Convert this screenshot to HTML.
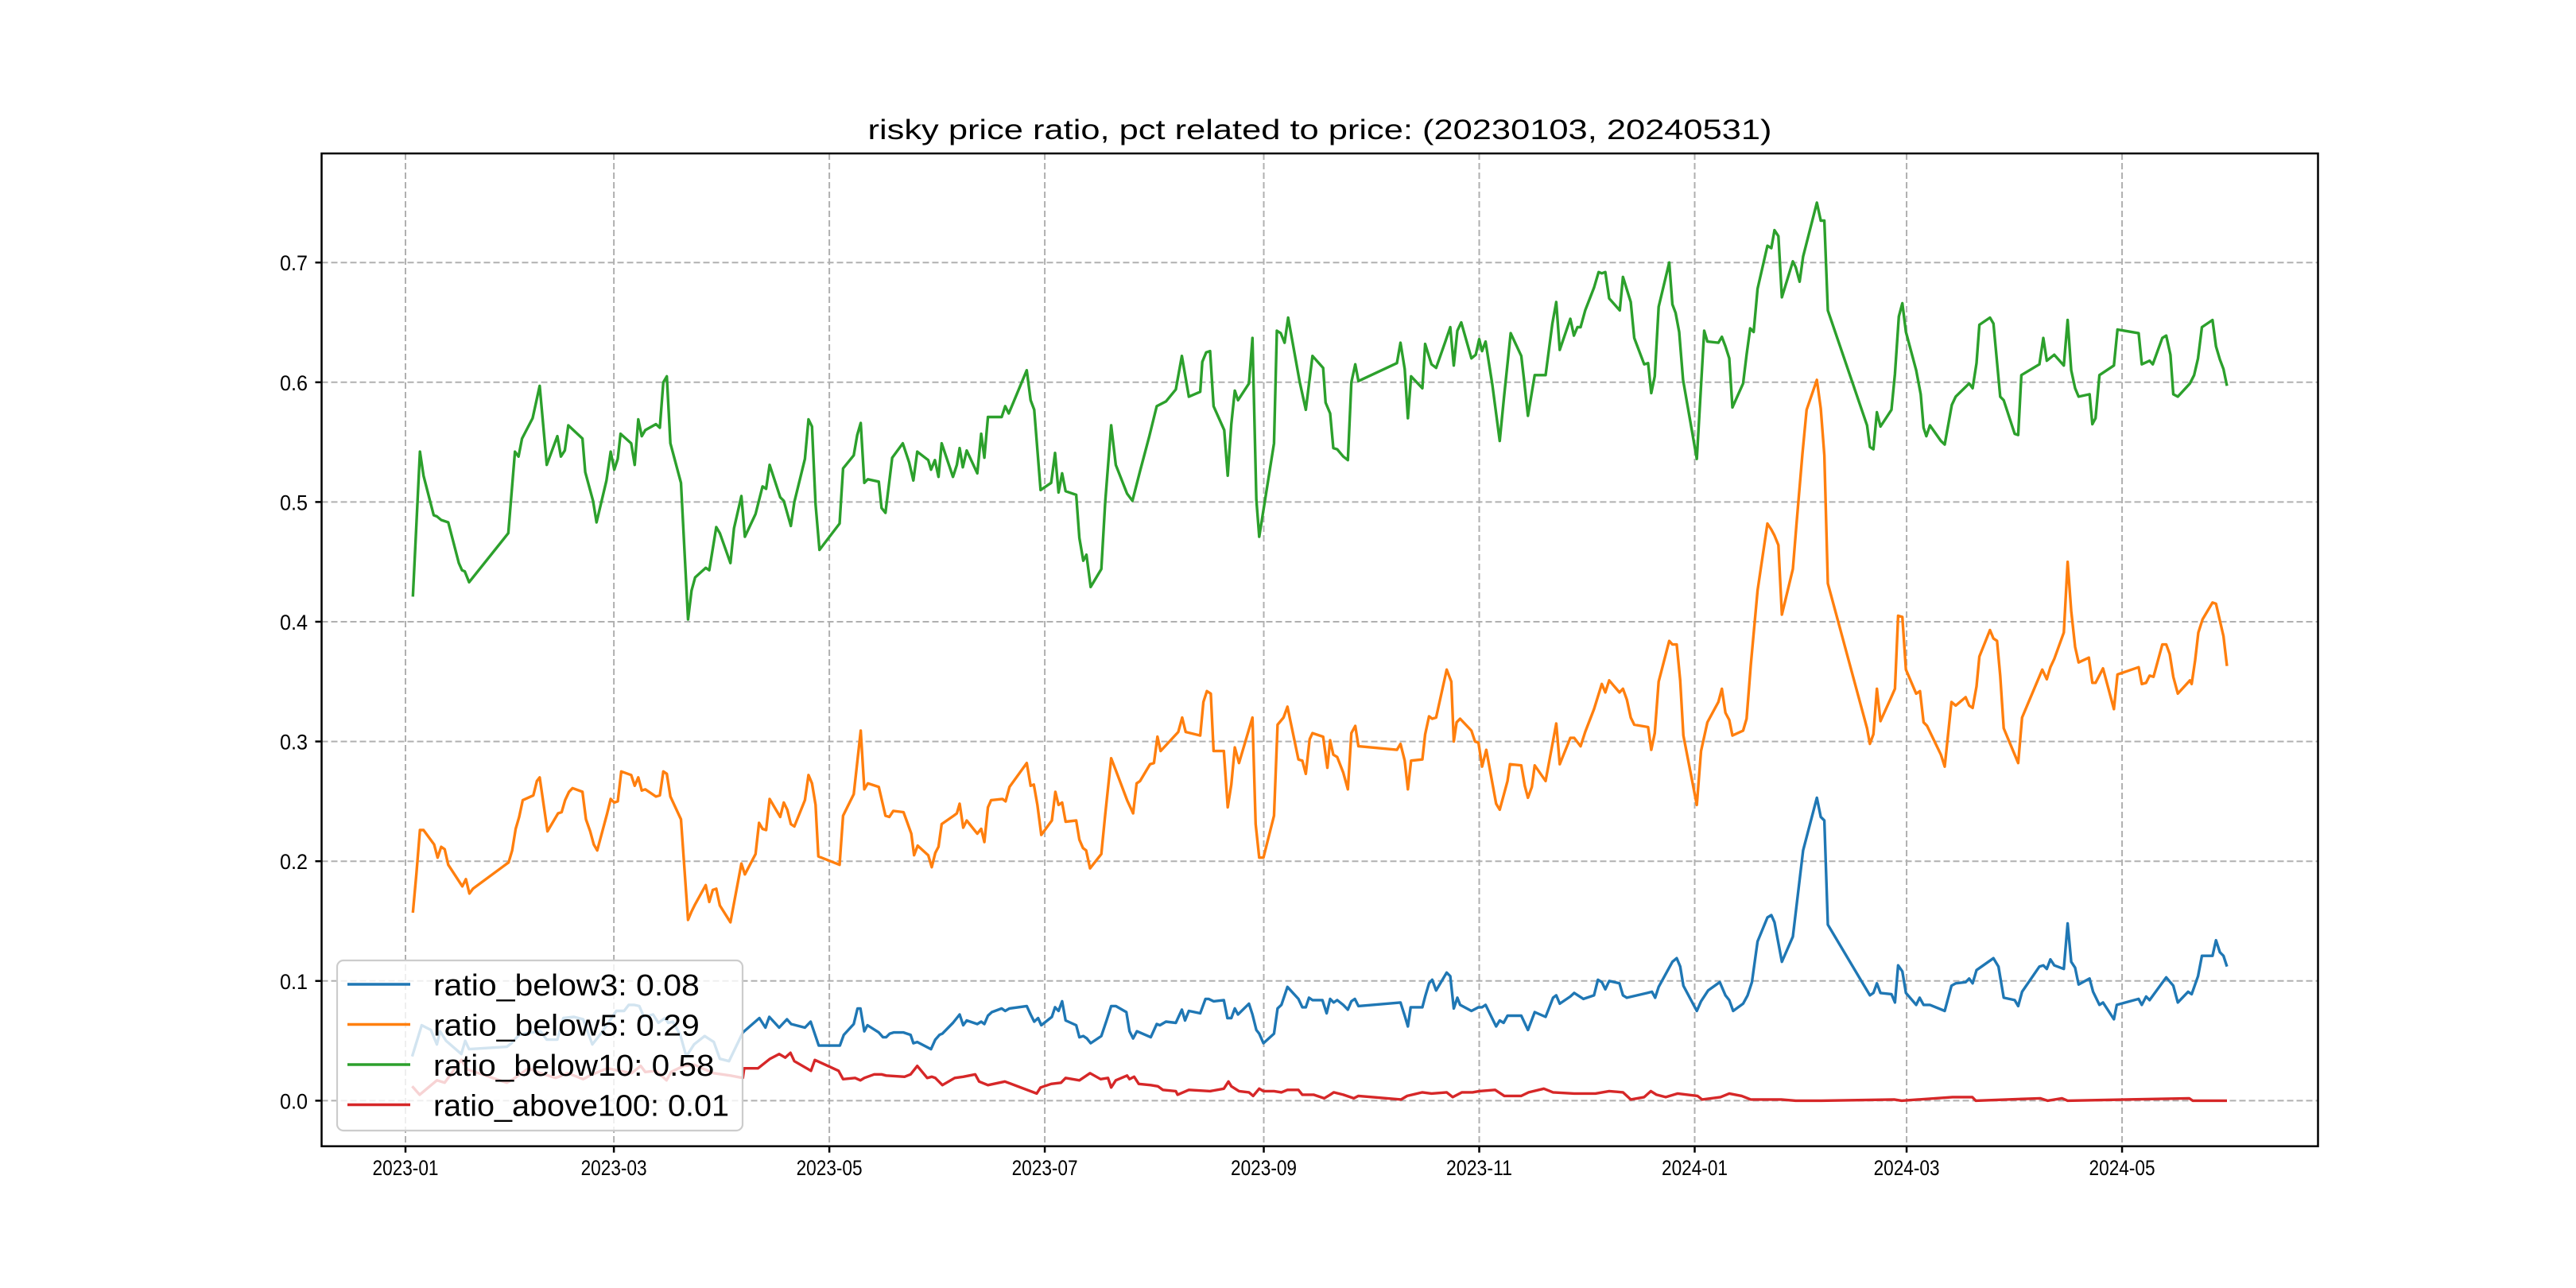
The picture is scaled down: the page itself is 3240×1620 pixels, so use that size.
<!DOCTYPE html>
<html><head><meta charset="utf-8">
<style>
html,body{margin:0;padding:0;background:#fff;}
svg{display:block;}
text{font-family:"Liberation Sans","Noto Sans CJK SC",sans-serif;fill:#000;}
</style></head>
<body>
<svg id="chart" xmlns="http://www.w3.org/2000/svg" width="3240" height="1620" viewBox="0 0 3240 1620">
<rect x="0" y="0" width="3240" height="1620" fill="#fff"/>
<text x="1660" y="175" text-anchor="middle" font-size="35" textLength="1137" lengthAdjust="spacingAndGlyphs">risky price ratio, pct related to price: (20230103, 20240531)</text>
<g id="grid"></g>
<g id="series"></g>
<rect x="404.5" y="193" width="2511" height="1248.7" fill="none" stroke="#000" stroke-width="2.5"/>
<g id="axes"></g>
<g id="legend"></g>
</svg>
<script>
// x: days since 2023-01-01
const xTickDays = [0,59,120,181,243,304,365,425,486];
const xTickLabels = ["2023-01","2023-03","2023-05","2023-07","2023-09","2023-11","2024-01","2024-03","2024-05"];
const yTickValues = [0,0.1,0.2,0.3,0.4,0.5,0.6,0.7];
const yTickLabels = ["0.0","0.1","0.2","0.3","0.4","0.5","0.6","0.7"];
const seriesNames = ["ratio_below3","ratio_below5","ratio_below10","ratio_above100"];
const seriesLegendValues = ["0.08","0.29","0.58","0.01"];
const seriesColors = ["#1f77b4","#ff7f0e","#2ca02c","#d62728"];

const b3Days = [1.9,4.6,7.2,8.9,9.8,11.5,15.8,16.9,18,28.7,30,32.2,35.6,38.2,40,43,44.7,47.7,50.3,52.9,55.3,57.2,59.7,61.9,63.2,64.7,66.2,67.5,70.1,71.6,73.5,74.4,75.7,77.8,79.5,81.7,84.7,87.3,89,91.6,95.5,100.2,101.9,103,105.8,108,109.2,113.1,114.7,117,123,124.1,126.9,128,128.8,129.9,130.8,134,135.2,136.1,137.1,138.2,141,143,143.8,144.9,148.8,150,151.2,152,155,156.9,157.9,158.9,161.9,163,163.9,164.9,166,168.8,169.8,171,175.9,177,178,179.1,180,183,183.9,184.9,185.9,186.9,189.9,190.8,191.9,192.9,194,197,198.5,199.8,201.1,204.1,205,206,207.1,211,212.7,213.6,215.3,218.1,219.8,220.7,221.8,225,226.5,227.4,228.8,231.7,232.7,233.8,234.8,235.7,238.8,239.8,240.9,241.7,242.9,245.9,246.9,248,249.7,252.8,253.9,254.9,255.8,256.8,259.6,260.8,261.8,262.8,263.8,265.5,266.8,267.8,268.8,269.8,281.7,282.9,283.8,284.6,287.9,288.7,289.8,290.7,291.8,294.8,295.8,296.8,297.8,298.6,301.8,303.8,304.8,305.8,308.8,309.8,310.9,312,315.9,317.8,319.7,322.8,324.9,325.8,326.8,329.8,330.9,333.5,336.5,337.6,338.7,339.7,340.8,343.7,344.7,345.8,351.6,352.9,353.8,354.8,358.7,359.9,360.9,361.8,365.6,366.8,368.8,372.1,373.7,374.8,375.9,378.7,380,381.2,382.8,385.6,386.7,387.6,389.7,392.8,395.7,399.6,400.7,401.7,402.7,414.6,415.6,416.6,417.6,420.7,421.7,422.6,423.8,424.8,427.7,428.7,429.8,431.6,435.8,437.7,438.9,441.7,442.7,443.7,444.8,449.6,451,452.5,455.6,456.6,457.7,462.6,463.7,464.7,465.7,466.8,469.5,470.6,471.6,472.7,473.7,476.8,477.8,479.6,480.6,483.7,484.5,490.7,491.6,492.8,493.8,498.5,500.5,501.8,504.7,505.7,507.5,508.6,511.6,512.6,513.7,514.7,515.7];
const b3Vals = [0.037,0.063,0.059,0.047,0.058,0.050,0.039,0.050,0.043,0.045,0.048,0.055,0.057,0.058,0.051,0.051,0.069,0.070,0.068,0.047,0.056,0.064,0.075,0.075,0.080,0.080,0.079,0.070,0.072,0.065,0.069,0.065,0.066,0.055,0.037,0.047,0.054,0.049,0.035,0.033,0.057,0.069,0.061,0.070,0.061,0.068,0.064,0.061,0.066,0.046,0.046,0.055,0.064,0.077,0.077,0.058,0.063,0.057,0.053,0.053,0.056,0.057,0.057,0.055,0.048,0.049,0.043,0.051,0.055,0.056,0.065,0.072,0.063,0.067,0.064,0.066,0.064,0.071,0.074,0.077,0.075,0.077,0.079,0.072,0.066,0.069,0.063,0.070,0.078,0.075,0.083,0.067,0.063,0.053,0.054,0.052,0.048,0.054,0.067,0.079,0.079,0.074,0.058,0.052,0.058,0.053,0.064,0.063,0.066,0.065,0.076,0.067,0.075,0.073,0.085,0.085,0.083,0.084,0.069,0.069,0.077,0.072,0.081,0.072,0.059,0.056,0.048,0.056,0.077,0.080,0.095,0.085,0.078,0.078,0.086,0.084,0.084,0.073,0.085,0.082,0.084,0.080,0.076,0.083,0.085,0.079,0.082,0.071,0.062,0.078,0.078,0.087,0.098,0.101,0.092,0.107,0.104,0.077,0.086,0.080,0.075,0.078,0.078,0.080,0.062,0.067,0.065,0.071,0.071,0.059,0.074,0.070,0.086,0.088,0.081,0.087,0.090,0.085,0.088,0.101,0.099,0.093,0.100,0.098,0.088,0.086,0.090,0.091,0.086,0.095,0.116,0.119,0.112,0.096,0.075,0.083,0.092,0.099,0.088,0.084,0.075,0.081,0.088,0.099,0.133,0.153,0.155,0.149,0.116,0.137,0.209,0.253,0.237,0.234,0.147,0.088,0.090,0.098,0.090,0.089,0.082,0.113,0.108,0.090,0.080,0.086,0.080,0.080,0.075,0.096,0.098,0.099,0.102,0.098,0.109,0.119,0.112,0.086,0.084,0.079,0.091,0.112,0.113,0.110,0.118,0.113,0.110,0.148,0.116,0.111,0.097,0.102,0.091,0.080,0.082,0.068,0.080,0.085,0.080,0.087,0.084,0.103,0.096,0.082,0.091,0.089,0.104,0.121,0.121,0.134,0.124,0.121,0.112];

const b5Days = [2.1,3.1,4.1,5.1,8.1,9.1,10.1,11.1,12.1,16.1,17.1,18.1,19.1,29.2,30.2,31.2,32.2,33.2,36.2,37.2,38,40.2,43.2,44.2,45.2,46.3,47.3,50.1,51.1,52.3,53.3,54.3,57.1,58.1,59.1,60.1,61.1,63.9,64.9,65.9,66.9,67.9,70.9,72,73,74,75,78,80,81,82,85,86,87,88,89,92,95.1,96.1,99.1,100.1,101.1,102.1,103.1,106.1,107.1,108.1,109.1,110.1,113.1,114.1,115.1,116.1,116.9,122.9,123.9,126.9,128.9,129.9,130.9,134,135.9,137,138.1,141,142,143.2,144,145,148,149,150,150.9,151.8,155.2,156.1,156.9,157.9,158.9,161.9,163,163.9,164.9,165.8,169,169.9,171,175.9,177,177.9,178.9,180,183,184,184.9,185.9,186.9,189.9,190.8,191.8,192.7,193.8,197,198.1,199.8,201.1,204.3,206,207,208,210.8,211.9,212.9,213.8,218.8,219.9,220.9,225,225.9,226.9,228,228.8,231.7,232.8,233.8,234.8,236,239.8,240.7,241.7,242.9,245.9,246.9,248.6,249.7,252.8,253.9,254.9,256,256.8,259.8,261,261.8,262.7,263.8,265.5,266.8,267.8,268.9,269.8,280.7,281.7,282.9,283.8,284.7,287.9,288.7,289.8,290.7,291.8,294.8,296.1,296.8,297.6,298.6,301.8,302.8,303.8,304.8,306,308.8,309.8,311,312,312.7,315.9,316.9,317.8,318.9,319.7,322.8,325.8,326.8,329.8,330.9,332.7,334,336.5,338.7,339.7,340.8,343.7,344.7,345.8,346.9,347.9,351.8,352.7,353.7,354.8,357.8,358.7,359.9,360.9,361.8,365.6,366.8,368.6,371.7,372.7,373.7,374.8,375.7,378.7,379.7,380.9,382.8,385.6,386.7,387.6,388.7,389.7,392.8,393.8,395.5,396.7,399.6,400.7,401.7,402.7,413.8,414.6,415.6,416.6,417.6,420.5,421.7,422.6,423.8,424.8,427.7,428.8,429.8,430.8,434.7,435.8,437.7,438.9,441.7,442.7,443.7,444.8,445.6,448.6,449.6,450.6,451.5,452.5,456.6,457.7,463.4,464.7,465.7,466.8,469.5,470.6,471.6,472.7,473.7,476.6,477.6,478.5,480.6,483.7,484.7,490.7,491.6,492.8,493.8,494.9,497.4,498.5,499.5,500.5,501.8,505.2,505.7,506.7,507.6,508.8,511.6,512.6,514.7,515.7];
const b5Vals = [0.157,0.190,0.226,0.226,0.214,0.203,0.212,0.210,0.197,0.179,0.185,0.173,0.177,0.199,0.209,0.227,0.237,0.251,0.255,0.267,0.270,0.225,0.240,0.241,0.251,0.258,0.261,0.258,0.235,0.225,0.214,0.209,0.240,0.252,0.249,0.250,0.275,0.272,0.263,0.270,0.259,0.260,0.254,0.255,0.275,0.273,0.254,0.235,0.151,0.158,0.164,0.180,0.166,0.176,0.177,0.163,0.149,0.198,0.189,0.206,0.232,0.227,0.226,0.252,0.237,0.249,0.243,0.231,0.229,0.251,0.272,0.265,0.247,0.204,0.197,0.238,0.256,0.309,0.260,0.265,0.262,0.238,0.237,0.242,0.241,0.233,0.223,0.205,0.213,0.205,0.195,0.207,0.212,0.231,0.238,0.240,0.248,0.228,0.234,0.223,0.227,0.216,0.245,0.251,0.252,0.250,0.262,0.282,0.263,0.264,0.247,0.222,0.234,0.258,0.247,0.249,0.233,0.234,0.218,0.211,0.209,0.194,0.206,0.239,0.286,0.276,0.251,0.240,0.265,0.267,0.281,0.282,0.304,0.292,0.308,0.320,0.308,0.305,0.333,0.342,0.340,0.292,0.292,0.245,0.264,0.295,0.282,0.320,0.231,0.203,0.203,0.238,0.314,0.320,0.329,0.285,0.284,0.273,0.302,0.307,0.304,0.278,0.301,0.289,0.287,0.274,0.260,0.307,0.313,0.296,0.293,0.298,0.284,0.260,0.284,0.285,0.306,0.321,0.319,0.320,0.360,0.350,0.300,0.316,0.319,0.309,0.300,0.299,0.279,0.293,0.248,0.243,0.256,0.267,0.281,0.280,0.263,0.253,0.262,0.280,0.267,0.315,0.281,0.303,0.303,0.296,0.308,0.327,0.348,0.341,0.351,0.341,0.344,0.335,0.320,0.314,0.312,0.293,0.307,0.350,0.384,0.381,0.381,0.351,0.305,0.247,0.292,0.316,0.333,0.344,0.324,0.318,0.305,0.309,0.319,0.364,0.426,0.482,0.477,0.472,0.464,0.406,0.444,0.481,0.540,0.577,0.602,0.578,0.539,0.432,0.311,0.298,0.306,0.344,0.317,0.336,0.344,0.405,0.404,0.360,0.340,0.342,0.316,0.313,0.289,0.279,0.333,0.330,0.337,0.330,0.328,0.346,0.371,0.393,0.386,0.384,0.355,0.311,0.282,0.320,0.360,0.352,0.362,0.369,0.391,0.450,0.409,0.379,0.366,0.370,0.349,0.349,0.361,0.327,0.356,0.362,0.348,0.349,0.355,0.354,0.381,0.381,0.373,0.354,0.340,0.351,0.348,0.368,0.391,0.402,0.416,0.415,0.388,0.363];

const b10Days = [2.1,4.1,5.1,8,8.9,10.1,12.1,15.1,16,16.8,18,29.1,31,32,33,36,38,40,43,44,45.1,46.1,50.1,50.9,53.1,54.1,56.9,58.1,59.1,60.1,60.9,63.9,64.9,65.9,66.9,67.9,70.9,72,73,74,75,78,80,81,82,85,86,88,89,92,93,95.1,96.1,99.1,101.1,102.1,103.1,106.1,107.1,109.1,110.1,113.1,114.1,115.1,116.1,117.2,122.9,123.9,126.9,127.9,128.9,129.9,130.9,134,134.8,135.9,137.8,140.8,142.6,143.8,144.9,148,148.8,149.9,150.9,151.8,155,156.1,156.9,157.8,158.9,161.9,163,163.9,164.9,168.8,169.8,170.8,175.9,177,178,179.8,182.8,183.9,184.9,185.9,186.9,189.9,190.8,191.9,192.8,194,197,198.1,199.8,201.1,204.3,205.8,208,210.6,212.7,215.3,218.1,219.8,221.8,225,225.6,226.7,227.8,228.8,231.8,232.8,233.8,234.8,235.7,238.8,239.8,240.9,241.7,245.9,246.7,247.8,248.9,249.9,253.2,254.9,256.8,259.8,260.5,261.8,262.7,263.8,265.5,266.8,267.8,268.9,269.8,280.7,281.7,282.9,283.8,284.7,287.9,288.7,290.5,291.8,294.3,295.8,296.8,297.8,298.9,301.8,303,304,304.8,305.8,307.7,309.8,311,312.9,315.9,316.7,317.8,319.7,322.8,324.7,325.8,326.8,329.8,330.8,331.8,332.7,334,336.5,337.8,338.7,339.7,340.8,343.8,344.7,346.9,347.9,350.7,351.8,352.7,353.7,354.8,357.8,358.7,359.6,360.6,361.7,365.6,367.7,368.6,371.7,372.7,373.7,374.8,375.7,378.7,379.7,380.7,381.7,382.8,385.6,386.7,387.6,388.7,389.7,392.8,393.6,394.7,395.7,399.6,400.7,401.7,402.7,413.8,414.6,415.6,416.6,417.6,420.7,421.7,422.8,423.8,424.8,427.7,429,429.8,430.6,431.6,434.7,435.8,437.8,438.9,442.7,443.7,444.8,445.6,448.6,449.6,451.5,452.5,455.6,456.6,457.5,462.6,463.7,464.7,466.8,469.5,470.6,471.6,472.7,473.7,476.8,477.6,478.5,479.6,480.6,483.7,484.7,490.7,491.6,493.8,494.7,497.4,498.5,499.7,500.5,501.8,505.2,506.4,507.5,508.6,511.6,512.6,513.7,514.7,515.7];
const b10Vals = [0.421,0.542,0.522,0.489,0.488,0.485,0.483,0.449,0.443,0.442,0.433,0.474,0.542,0.538,0.553,0.570,0.597,0.531,0.555,0.538,0.543,0.564,0.553,0.525,0.501,0.483,0.518,0.542,0.527,0.536,0.557,0.549,0.531,0.569,0.555,0.560,0.565,0.562,0.600,0.605,0.549,0.516,0.402,0.426,0.437,0.445,0.443,0.479,0.474,0.449,0.478,0.505,0.471,0.490,0.513,0.511,0.531,0.504,0.501,0.480,0.500,0.536,0.569,0.563,0.498,0.460,0.482,0.528,0.539,0.556,0.566,0.516,0.519,0.517,0.495,0.491,0.537,0.549,0.533,0.518,0.542,0.535,0.527,0.535,0.521,0.549,0.521,0.531,0.545,0.529,0.543,0.524,0.557,0.537,0.571,0.571,0.580,0.574,0.610,0.585,0.577,0.510,0.516,0.541,0.508,0.524,0.509,0.506,0.470,0.451,0.456,0.429,0.444,0.500,0.564,0.531,0.507,0.501,0.526,0.555,0.580,0.584,0.594,0.622,0.588,0.592,0.617,0.625,0.626,0.580,0.560,0.522,0.565,0.593,0.585,0.599,0.637,0.502,0.471,0.549,0.643,0.641,0.633,0.654,0.600,0.577,0.622,0.612,0.583,0.574,0.545,0.544,0.538,0.535,0.600,0.615,0.601,0.616,0.633,0.611,0.570,0.605,0.595,0.632,0.615,0.612,0.633,0.646,0.614,0.643,0.650,0.620,0.623,0.636,0.626,0.634,0.598,0.551,0.587,0.641,0.622,0.602,0.572,0.606,0.606,0.649,0.667,0.627,0.653,0.639,0.646,0.646,0.660,0.679,0.692,0.691,0.692,0.670,0.660,0.688,0.667,0.637,0.615,0.616,0.591,0.605,0.663,0.700,0.665,0.658,0.642,0.602,0.536,0.643,0.634,0.633,0.638,0.630,0.620,0.579,0.599,0.623,0.645,0.642,0.678,0.714,0.712,0.727,0.722,0.671,0.701,0.696,0.684,0.705,0.750,0.735,0.735,0.660,0.564,0.546,0.544,0.575,0.563,0.577,0.607,0.655,0.666,0.642,0.610,0.590,0.562,0.555,0.564,0.551,0.548,0.581,0.588,0.599,0.595,0.616,0.648,0.654,0.649,0.588,0.585,0.557,0.556,0.606,0.615,0.637,0.618,0.623,0.614,0.652,0.610,0.595,0.588,0.590,0.565,0.570,0.606,0.608,0.614,0.644,0.641,0.615,0.618,0.615,0.637,0.639,0.623,0.590,0.588,0.599,0.606,0.620,0.646,0.652,0.630,0.619,0.611,0.597];

const a100Days = [1.9,4,8.9,11.1,15.8,17.6,28.7,30.5,34.8,38.2,42.5,46,50.3,52.9,57.2,60.6,64,66.6,67.9,70.9,73.9,75.2,78.7,81.7,87.3,92,95.5,95.9,99.8,103.2,105.8,107.5,109,110.1,114.8,115.9,122.6,123.9,127.3,128.8,129.9,132.7,134.8,136.1,141.3,143,144.9,147.7,149,150,152,155.5,157.9,161.3,162.4,164.9,169.7,178.7,179.8,182.8,185.6,186.9,190.8,191.8,193.8,196.8,198.9,199.8,201.1,204.3,205,206.3,207.6,211,213,214.4,218.1,218.6,221.8,227.8,231.7,233,233.8,236,238.8,240,241.7,242.9,245.9,248,249.7,252.8,253.9,257.1,260.1,261.8,262.8,265.5,268.5,269.8,281.9,283.6,287.9,290.5,294.8,296.5,299.1,302.1,304,308.5,311.1,315.9,318,322.3,324.9,330.9,336.9,340.8,344.7,346.9,350.7,352.6,354.2,356.8,360.2,365.8,367.1,372.3,374.8,378.3,380.9,384,389.5,393.6,400.8,421.5,423.6,438,443.6,444.6,462.8,464.9,469,470.6,505,506,515.7];
const a100Vals = [0.012,0.005,0.017,0.015,0.034,0.026,0.015,0.018,0.027,0.023,0.019,0.023,0.018,0.022,0.027,0.025,0.023,0.029,0.024,0.025,0.017,0.024,0.029,0.030,0.023,0.021,0.019,0.027,0.027,0.035,0.039,0.036,0.040,0.033,0.025,0.034,0.025,0.018,0.019,0.017,0.019,0.022,0.022,0.021,0.020,0.022,0.029,0.019,0.020,0.019,0.013,0.019,0.020,0.022,0.016,0.013,0.016,0.006,0.011,0.014,0.015,0.019,0.017,0.019,0.023,0.018,0.019,0.011,0.017,0.021,0.018,0.020,0.014,0.013,0.012,0.009,0.008,0.005,0.009,0.008,0.010,0.016,0.012,0.008,0.007,0.004,0.010,0.008,0.008,0.007,0.009,0.009,0.005,0.005,0.002,0.005,0.007,0.005,0.002,0.004,0.001,0.004,0.007,0.006,0.007,0.003,0.007,0.007,0.008,0.009,0.004,0.004,0.007,0.010,0.007,0.006,0.006,0.008,0.007,0.001,0.003,0.008,0.005,0.003,0.006,0.004,0.001,0.003,0.006,0.004,0.001,0.001,0.001,0.000,0.000,0.001,0.000,0.003,0.003,0.000,0.002,0.000,0.002,0.000,0.002,0.000,0.000];

const seriesDays = [b3Days,b5Days,b10Days,a100Days];
const seriesVals = [b3Vals,b5Vals,b10Vals,a100Vals];

const NS = "http://www.w3.org/2000/svg";
const X0 = 404.5, X1 = 2915.5, Y0 = 193, Y1 = 1441.7;
function xScale(d){ return 510 + d*4.4425; }
function yScale(v){ return 1384.4 - v*1506; }
function mk(tag, attrs){ const e=document.createElementNS(NS,tag); for(const k in attrs) e.setAttribute(k,attrs[k]); return e; }

const grid = document.getElementById('grid');
const axes = document.getElementById('axes');
xTickDays.forEach((d,i)=>{
  const x = xScale(d);
  const gl = mk('line',{x1:x,y1:Y0,x2:x,y2:Y1,stroke:'#b0b0b0','stroke-width':2,'stroke-dasharray':'8,4'});
  
  
  grid.appendChild(gl);
  const tk = mk('line',{x1:x,y1:Y1,x2:x,y2:Y1+8,stroke:'#000','stroke-width':2.5});
  
  
  axes.appendChild(tk);
  const t = mk('text',{x:x,y:1478,'text-anchor':'middle','font-size':27,textLength:83,lengthAdjust:'spacingAndGlyphs'});
  t.textContent = xTickLabels[i];
  
  
  axes.appendChild(t);
});
yTickValues.forEach((v,i)=>{
  const y = yScale(v);
  const gl = mk('line',{x1:X0,y1:y,x2:X1,y2:y,stroke:'#b0b0b0','stroke-width':2,'stroke-dasharray':'8,4'});
  
  
  grid.appendChild(gl);
  const tk = mk('line',{x1:X0-8,y1:y,x2:X0,y2:y,stroke:'#000','stroke-width':2.5});
  
  
  axes.appendChild(tk);
  const t = mk('text',{x:387,y:y+10,'text-anchor':'end','font-size':27,textLength:35,lengthAdjust:'spacingAndGlyphs'});
  t.textContent = yTickLabels[i];
  
  
  axes.appendChild(t);
});

const sg = document.getElementById('series');
seriesNames.forEach((n,s)=>{
  const pts = seriesDays[s].map((d,i)=>xScale(d).toFixed(1)+','+yScale(seriesVals[s][i]).toFixed(1)).join(' ');
  const pl = mk('polyline',{points:pts,fill:'none',stroke:seriesColors[s],'stroke-width':3.4,'stroke-linejoin':'round','stroke-linecap':'butt'});
  
  
  sg.appendChild(pl);
});

const lg = document.getElementById('legend');
const box = mk('rect',{x:424,y:1208,width:510,height:214,rx:8,ry:8,fill:'#fff','fill-opacity':0.8,stroke:'#cccccc','stroke-width':2.2});


lg.appendChild(box);
const rowY = [1238,1288.5,1339,1389.5];
seriesNames.forEach((n,s)=>{
  const ln = mk('line',{x1:437,y1:rowY[s],x2:516,y2:rowY[s],stroke:seriesColors[s],'stroke-width':3.4});
  
  
  lg.appendChild(ln);
  const label = n+': '+seriesLegendValues[s];
  const t = mk('text',{x:545,y:rowY[s]+14,'font-size':38,textLength:(label.length*18.6).toFixed(1),lengthAdjust:'spacingAndGlyphs'});
  t.textContent = label;
  
  
  lg.appendChild(t);
});
</script>
</body></html>
